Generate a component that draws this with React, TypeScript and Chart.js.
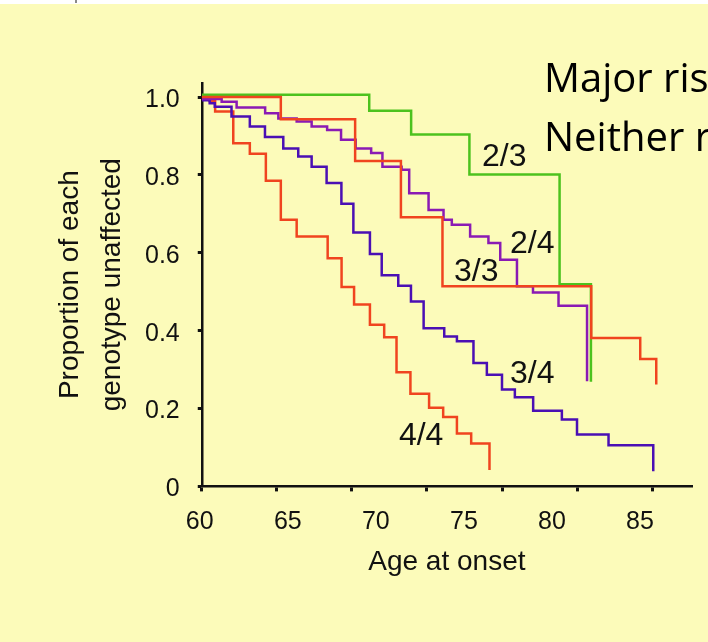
import React, { useEffect, useRef } from 'react';
import { Chart, registerables } from 'chart.js';

Chart.register(...registerables);

// ---- data ----
const xTickLabels = [60, 65, 70, 75, 80, 85];
const xTickMarks = [0, 1, 2, 3, 4, 5, 6];
const yTickValues = [0, 0.2, 0.4, 0.6, 0.8, 1.0];

const ages23 = [60, 69.51, 71.89, 75.2, 80.32, 82.1];
const prop23 = [1.006, 0.965, 0.904, 0.801, 0.519, 0.269];

const ages24 = [60, 61.13, 61.98, 63.6, 64.35, 65.39, 66.24, 67.12, 67.91, 68.74, 69.62, 70.26, 71.35, 71.78, 72.88, 73.73, 74.2, 75.24, 76.28, 76.95, 77.9, 78.81, 80.26, 81.88];
const prop24 = [0.995, 0.988, 0.973, 0.958, 0.945, 0.937, 0.924, 0.915, 0.89, 0.868, 0.856, 0.821, 0.813, 0.753, 0.71, 0.685, 0.672, 0.642, 0.625, 0.582, 0.514, 0.498, 0.464, 0.27];

const ages33 = [60, 64.49, 68.71, 71.31, 73.67, 82.12, 84.9, 85.81];
const prop33 = [1.0, 0.943, 0.836, 0.691, 0.514, 0.381, 0.327, 0.262];

const ages34 = [60, 60.45, 60.74, 61.69, 62.73, 63.59, 64.63, 65.48, 66.24, 67.09, 67.93, 68.61, 69.55, 70.22, 71.16, 71.88, 72.6, 73.77, 74.49, 75.43, 76.19, 77.05, 77.78, 78.82, 80.45, 81.31, 83.1, 85.64];
const prop34 = [0.992, 0.984, 0.975, 0.95, 0.924, 0.897, 0.868, 0.847, 0.821, 0.779, 0.726, 0.652, 0.597, 0.542, 0.515, 0.475, 0.406, 0.385, 0.373, 0.317, 0.287, 0.249, 0.229, 0.194, 0.172, 0.133, 0.106, 0.039];

const ages44 = [60, 60.45, 60.76, 61.79, 62.73, 63.64, 64.49, 65.39, 67.15, 67.94, 68.65, 69.55, 70.36, 71.06, 71.85, 72.91, 73.71, 74.49, 75.3, 76.34];
const prop44 = [1.0, 0.99, 0.963, 0.881, 0.854, 0.785, 0.685, 0.642, 0.586, 0.512, 0.467, 0.415, 0.383, 0.293, 0.238, 0.202, 0.178, 0.136, 0.11, 0.042];

const curveLabels = ['2/3', '2/4', '3/3', '3/4', '4/4'];
const curveLabelAges = [77.18, 78.77, 75.59, 78.77, 72.46];
const curveLabelProps = [0.845, 0.621, 0.551, 0.287, 0.128];

// ---- styles ----
const FONT = '"Liberation Sans", Arial, Helvetica, sans-serif';
const BG = '#fcfbba';
const INK = '#111111';
const GREEN = '#4cc21e';
const RED = '#f0441f';
const PURPLE = '#8a1ab4';
const BLUE = '#4a0fb4';

const pts = (xs: number[], ys: number[]) => xs.map((x, i) => ({ x, y: ys[i] }));

const curveLabelPlugin = {
  id: 'curveLabels',
  afterDatasetsDraw(chart: any) {
    const { ctx, scales } = chart;
    ctx.save();
    ctx.font = `32px ${FONT}`;
    ctx.fillStyle = INK;
    ctx.textAlign = 'center';
    ctx.textBaseline = 'middle';
    curveLabels.forEach((t, i) => {
      ctx.fillText(t, scales.x.getPixelForValue(curveLabelAges[i]), scales.y.getPixelForValue(curveLabelProps[i]));
    });
    ctx.restore();
  },
};

export default function App() {
  const ref = useRef<HTMLCanvasElement | null>(null);

  useEffect(() => {
    document.body.style.margin = '0';
    if (!ref.current) return;
    const line = (label: string, xs: number[], ys: number[], color: string) => ({
      label,
      data: pts(xs, ys),
      borderColor: color,
      backgroundColor: color,
      borderWidth: 2.5,
      stepped: true,
      pointRadius: 0,
      fill: false,
      xAxisID: 'x',
      yAxisID: 'y',
    });
    const chart = new Chart(ref.current, {
      type: 'line',
      data: {
        datasets: [
          line('3/3', ages33, prop33, RED),
          line('2/4', ages24, prop24, PURPLE),
          line('2/3', ages23, prop23, GREEN),
          line('3/4', ages34, prop34, BLUE),
          line('4/4', ages44, prop44, RED),
        ],
      },
      options: {
        responsive: false,
        animation: false,
        events: [],
        layout: { padding: { left: 37, right: 16, top: 83, bottom: 63 } },
        plugins: { legend: { display: false }, tooltip: { enabled: false } },
        scales: {
          xt: {
            type: 'linear',
            position: 'bottom',
            weight: 0,
            min: 0,
            max: 6.53,
            afterBuildTicks: (s: any) => {
              s.ticks = xTickMarks.map((v) => ({ value: v }));
            },
            ticks: { display: false },
            grid: { display: true, drawOnChartArea: false, drawTicks: true, tickLength: 5, tickWidth: 3, tickColor: INK },
            border: { display: true, color: INK, width: 2.5 },
          },
          x: {
            type: 'linear',
            position: 'bottom',
            weight: 1,
            min: 60,
            max: 87.84,
            afterBuildTicks: (s: any) => {
              s.ticks = xTickLabels.map((v) => ({ value: v }));
            },
            ticks: {
              padding: 8,
              labelOffset: -2,
              autoSkip: false,
              maxRotation: 0,
              color: INK,
              font: { family: FONT, size: 25 },
              callback: (v: any) => String(v),
            },
            grid: { display: false },
            border: { display: false },
            title: {
              display: true,
              text: 'Age at onset',
              color: INK,
              font: { family: FONT, size: 28 },
              padding: { top: 0, bottom: 0 },
            },
          },
          y: {
            type: 'linear',
            min: 0,
            max: 1.036,
            afterBuildTicks: (s: any) => {
              s.ticks = yTickValues.map((v) => ({ value: v }));
            },
            ticks: {
              padding: 18,
              labelOffset: 3,
              color: INK,
              font: { family: FONT, size: 25 },
              callback: (v: any) => (v === 0 ? '0' : Number(v).toFixed(1)),
            },
            grid: { display: true, drawOnChartArea: false, drawTicks: true, tickLength: 4, tickWidth: 3, tickColor: INK },
            border: { display: true, color: INK, width: 2.5 },
            title: {
              display: true,
              text: ['Proportion of each', 'genotype unaffected'],
              color: INK,
              font: { family: FONT, size: 28, lineHeight: 1.5 },
              padding: { top: 12, bottom: -6 },
            },
          },
        },
      },
      plugins: [curveLabelPlugin],
    } as any);
    return () => chart.destroy();
  }, []);

  return (
    <div style={{ position: 'fixed', left: 0, top: 0, width: 708, height: 642, overflow: 'hidden', background: '#ffffff' }}>
      <div style={{ position: 'absolute', left: 0, top: 4, width: 708, height: 638, background: BG }} />
      <div style={{ position: 'absolute', left: 75, top: 0, width: 2, height: 3, background: '#8a8a8a' }} />
      <canvas ref={ref} width={708} height={642} style={{ position: 'absolute', left: 0, top: 0, width: 708, height: 642 }} />
      <div
        style={{
          position: 'absolute',
          left: 544,
          top: 47,
          fontFamily: '"Open Sans", Lato, sans-serif',
          fontSize: 40,
          lineHeight: '59px',
          whiteSpace: 'pre',
          color: '#000000',
        }}
      >
        {'Major ris\nNeither r'}
      </div>
    </div>
  );
}
